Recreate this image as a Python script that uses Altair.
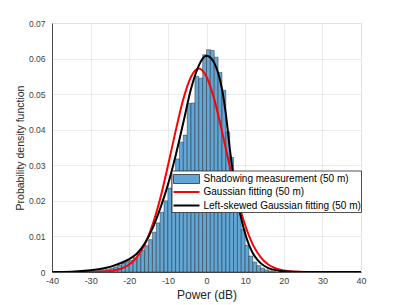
import altair as alt
import pandas as pd

# ---------------- data ----------------
bin_start = list(range(-30, 18))
bin_end = [b + 1 for b in bin_start]
hist_pdf = [0.0002, 0.0003, 0.0004, 0.0006, 0.0008, 0.0011, 0.0014, 0.0019,
            0.0025, 0.0029, 0.0033, 0.0040, 0.0050, 0.0061, 0.0074, 0.0091,
            0.0112, 0.0138, 0.0168, 0.0200, 0.0236, 0.0272, 0.0318, 0.0365,
            0.0385, 0.0474, 0.0475, 0.0550, 0.0545, 0.0611, 0.0625, 0.0623,
            0.0604, 0.0561, 0.0511, 0.0394, 0.0322, 0.0245, 0.0170, 0.0120,
            0.0075, 0.0045, 0.0028, 0.0018, 0.0011, 0.0006, 0.0003, 0.0001]

gauss_x = [-40, -35, -30, -26, -24, -22, -20, -18, -16, -14, -12, -10, -8, -6,
           -4, -2, 0, 2, 4, 6, 8, 10, 12, 14, 16, 18, 20, 22, 26, 30, 35, 40]
gauss_pdf = [0.0, 0.0, 0.00002, 0.00016, 0.00041, 0.00097, 0.0021, 0.0042,
             0.0077, 0.0132, 0.0206, 0.0298, 0.0396, 0.0486, 0.0549, 0.0572,
             0.0549, 0.0486, 0.0396, 0.0298, 0.0206, 0.0132, 0.0077, 0.0042,
             0.0021, 0.00097, 0.00041, 0.00016, 0.00002, 0.0, 0.0, 0.0]

skew_x = [-40, -35, -30, -28, -26, -24, -22, -20, -18, -16, -14, -12, -10, -8,
          -6, -4, -2, -1, 0, 1, 2, 3, 4, 5, 6, 7, 8, 9, 10, 11, 12, 13, 14, 16,
          18, 20, 25, 30, 40]
skew_pdf = [0.0, 0.0001, 0.0005, 0.0008, 0.0012, 0.0018, 0.0026, 0.0036,
            0.0052, 0.0080, 0.0122, 0.0178, 0.0245, 0.0327, 0.0420, 0.0515,
            0.0580, 0.0600, 0.0608, 0.0603, 0.0588, 0.0560, 0.0515, 0.0445,
            0.0350, 0.0268, 0.0200, 0.0150, 0.0108, 0.0076, 0.0053, 0.0037,
            0.0025, 0.0011, 0.0005, 0.0002, 0.0, 0.0, 0.0]

x_ticks = [-40, -30, -20, -10, 0, 10, 20, 30, 40]
y_ticks = [0, 0.01, 0.02, 0.03, 0.04, 0.05, 0.06, 0.07]

legend_labels = ["Shadowing measurement (50 m)",
                 "Gaussian fitting (50 m)",
                 "Left-skewed Gaussian fitting (50 m)"]

# ---------------- tables ----------------
hist_df = pd.DataFrame({"start": bin_start, "end": bin_end, "pdf": hist_pdf})
gauss_df = pd.DataFrame({"x": gauss_x, "pdf": gauss_pdf})
skew_df = pd.DataFrame({"x": skew_x, "pdf": skew_pdf})

FONT = "Liberation Sans"
BAR_FILL = "#62a6d6"

x_scale = alt.Scale(domain=[-40, 40], nice=False, zero=False)
y_scale = alt.Scale(domain=[0, 0.07], nice=False, zero=True)

x_axis = alt.Axis(values=x_ticks, tickCount=9, title="Power (dB)",
                  labelExpr="'' + datum.value",
                  labelOverlap=False, labelBound=False, labelFlush=False,
                  grid=True, gridColor="#e3e3e3", gridWidth=0.7,
                  domainColor="#262626", domainWidth=0.8,
                  ticks=False, tickSize=0, labelPadding=4,
                  labelFont=FONT, labelFontSize=9, labelColor="#404040",
                  titleFont=FONT, titleFontSize=12, titleFontWeight="normal",
                  titleColor="#262626", titlePadding=4)
y_axis = alt.Axis(values=y_ticks, tickCount=8, title="Probability density function",
                  labelExpr="'' + datum.value",
                  labelOverlap=False, labelBound=False, labelFlush=False,
                  grid=True, gridColor="#e3e3e3", gridWidth=0.7,
                  domainColor="#262626", domainWidth=0.8,
                  ticks=False, tickSize=0, labelPadding=7,
                  labelFont=FONT, labelFontSize=8.5, labelColor="#404040",
                  titleFont=FONT, titleFontSize=10.5, titleFontWeight="normal",
                  titleColor="#262626", titlePadding=3)

bars = alt.Chart(hist_df).mark_rect(
    fill=BAR_FILL, stroke="#1a1a1a", strokeWidth=0.5, strokeOpacity=0.85
).encode(
    x=alt.X("start:Q", scale=x_scale, axis=x_axis),
    x2="end:Q",
    y=alt.Y("pdf:Q", scale=y_scale, axis=y_axis),
    y2=alt.datum(0),
)

gauss = alt.Chart(gauss_df).mark_line(
    color="#ff0000", strokeWidth=2, interpolate="monotone", clip=True
).encode(x=alt.X("x:Q", scale=x_scale, axis=x_axis),
         y=alt.Y("pdf:Q", scale=y_scale, axis=y_axis))

skew = alt.Chart(skew_df).mark_line(
    color="#000000", strokeWidth=2, interpolate="monotone", clip=True
).encode(x=alt.X("x:Q", scale=x_scale, axis=x_axis),
         y=alt.Y("pdf:Q", scale=y_scale, axis=y_axis))

# ---------------- legend (drawn inside the plot area) ----------------
one = pd.DataFrame({"k": [0]})
leg_box = alt.Chart(one).mark_rect(
    fill="white", stroke="#262626", strokeWidth=0.8
).encode(x=alt.value(120), x2=alt.value(309.5), y=alt.value(148), y2=alt.value(189.5))

leg_bar = alt.Chart(one).mark_rect(
    fill=BAR_FILL, stroke="#1a1a1a", strokeWidth=0.7
).encode(x=alt.value(121.5), x2=alt.value(147.5), y=alt.value(151.5), y2=alt.value(160.5))

leg_red = alt.Chart(one).mark_rule(color="#ff0000", strokeWidth=2).encode(
    x=alt.value(121.5), x2=alt.value(147.5), y=alt.value(169))
leg_blk = alt.Chart(one).mark_rule(color="#000000", strokeWidth=2).encode(
    x=alt.value(121.5), x2=alt.value(147.5), y=alt.value(182.5))

text_layers = []
for lab, yy in zip(legend_labels, [156, 169.3, 183]):
    text_layers.append(
        alt.Chart(pd.DataFrame({"t": [lab]})).mark_text(
            font=FONT, fontSize=10, color="#000000", align="left", baseline="middle"
        ).encode(text="t:N", x=alt.value(151.5), y=alt.value(yy))
    )

chart = alt.layer(bars, gauss, skew, leg_box, leg_bar, leg_red, leg_blk, *text_layers).properties(
    width=309, height=249,
    autosize=alt.AutoSizeParams(type="none"),
    padding={"left": 44, "top": 15, "right": 30, "bottom": 30},
).configure_view(stroke=None).configure(background="white")

chart.save("out.html", embed_options={"renderer": "svg", "actions": False})
